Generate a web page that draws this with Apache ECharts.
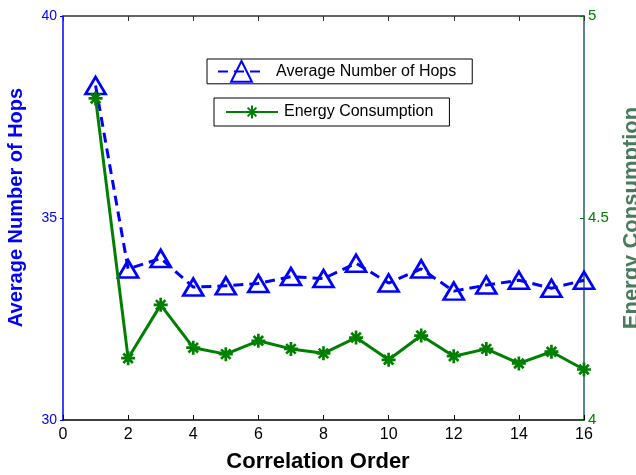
<!DOCTYPE html>
<html>
<head>
<meta charset="utf-8">
<script src="https://cdn.jsdelivr.net/npm/echarts@6/dist/echarts.min.js"></script>
<style>
html,body{margin:0;padding:0;background:#fff;}
#c{width:636px;height:475px;}
</style>
</head>
<body>
<div id="c"></div>
<script>
var correlationOrder = [1, 2, 3, 4, 5, 6, 7, 8, 9, 10, 11, 12, 13, 14, 15, 16];
var avgHops = [38.28, 33.74, 34.0, 33.29, 33.32, 33.38, 33.55, 33.5, 33.88, 33.39, 33.74, 33.19, 33.34, 33.46, 33.26, 33.46];
var energy = [4.796, 4.153, 4.285, 4.179, 4.163, 4.196, 4.176, 4.165, 4.204, 4.149, 4.209, 4.158, 4.176, 4.140, 4.169, 4.125];
var seriesNames = ['Average Number of Hops', 'Energy Consumption'];
var xTicks = [0, 16, 2];
var leftTicks = [30, 40, 5];
var rightTicks = [4, 5, 0.5];

var FONT = 'Liberation Sans, Arial, Helvetica, sans-serif';
function pairs(xs, ys) { return xs.map(function (x, i) { return [x, ys[i]]; }); }

var chart = echarts.init(document.getElementById('c'), null, { renderer: 'canvas' });
chart.setOption({
  backgroundColor: '#ffffff',
  animation: false,
  grid: { left: 63, right: 52, top: 16, bottom: 55, containLabel: false, outerBoundsMode: 'none' },
  legend: [
    {
      data: [seriesNames[0]], left: 207, top: 59, orient: 'horizontal',
      padding: [1, 16, 1, 10], itemWidth: 47, itemHeight: 26,
      borderColor: '#000', borderWidth: 1, backgroundColor: '#fff', borderRadius: 0,
      textStyle: { fontFamily: FONT, fontSize: 16, color: '#000', padding: [0, 0, 0, 6] }
    },
    {
      data: [seriesNames[1]], left: 214, top: 98, orient: 'horizontal',
      padding: [6, 16, 6, 11], itemWidth: 52, itemHeight: 16,
      borderColor: '#000', borderWidth: 1, backgroundColor: '#fff', borderRadius: 0,
      textStyle: { fontFamily: FONT, fontSize: 16, color: '#000', padding: [0, 0, 0, 1] }
    }
  ],
  xAxis: [
    {
      type: 'value', position: 'bottom', min: xTicks[0], max: xTicks[1], interval: xTicks[2],
      name: 'Correlation Order', nameLocation: 'middle', nameGap: 31,
      nameTextStyle: { fontFamily: FONT, fontSize: 22, fontWeight: 'bold', color: '#000', padding: [0, 11, 0, 0] },
      axisLine: { show: true, onZero: false, lineStyle: { color: '#000', width: 1.5 } },
      axisTick: { show: true, inside: true, length: 5, lineStyle: { color: '#000', width: 1 } },
      axisLabel: { fontFamily: FONT, fontSize: 16, color: '#000', margin: 7 },
      splitLine: { show: false }
    },
    {
      type: 'value', position: 'top', min: xTicks[0], max: xTicks[1], interval: xTicks[2],
      axisLine: { show: true, onZero: false, lineStyle: { color: '#333', width: 1.5 } },
      axisTick: { show: true, inside: true, length: 5, lineStyle: { color: '#333', width: 1 } },
      axisLabel: { show: false },
      splitLine: { show: false }
    }
  ],
  yAxis: [
    {
      type: 'value', position: 'left', min: leftTicks[0], max: leftTicks[1], interval: leftTicks[2],
      name: 'Average Number of Hops', nameLocation: 'middle', nameGap: 37, nameRotate: 90,
      nameTextStyle: { fontFamily: FONT, fontSize: 20, fontWeight: 'bold', color: '#0000ff', padding: [0, 0, 0, 21] },
      axisLine: { show: true, onZero: false, lineStyle: { color: '#0000ff', width: 1.5 } },
      axisTick: { show: true, inside: false, length: 3, lineStyle: { color: '#0000ff', width: 1 } },
      axisLabel: { fontFamily: FONT, fontSize: 14, color: '#0000ff', margin: 6 },
      splitLine: { show: false }
    },
    {
      type: 'value', position: 'right', min: rightTicks[0], max: rightTicks[1], interval: rightTicks[2],
      name: 'Energy Consumption', nameLocation: 'middle', nameGap: 37, nameRotate: 90,
      nameTextStyle: { fontFamily: FONT, fontSize: 22, fontWeight: 'bold', color: '#4a7a5c' },
      axisLine: { show: true, onZero: false, lineStyle: { color: '#1f5c70', width: 1.5 } },
      axisTick: { show: true, inside: true, length: 4, lineStyle: { color: '#008000', width: 1 } },
      axisLabel: { fontFamily: FONT, fontSize: 15, color: '#008000', margin: 4 },
      splitLine: { show: false }
    }
  ],
  series: [
    {
      name: seriesNames[0], type: 'line', xAxisIndex: 0, yAxisIndex: 0,
      data: pairs(correlationOrder, avgHops),
      symbol: 'triangle', symbolSize: [20, 17], showAllSymbol: true,
      lineStyle: { color: '#0000ff', width: 3, type: [10, 6] },
      itemStyle: { color: 'rgba(255,255,255,0)', borderColor: '#0000ff', borderWidth: 2.7 },
      emphasis: { disabled: true }, z: 2
    },
    {
      name: seriesNames[1], type: 'line', xAxisIndex: 0, yAxisIndex: 1,
      data: pairs(correlationOrder, energy),
      symbol: 'path://M5 0L5 10M0 5L10 5M1.6 1.6L8.4 8.4M8.4 1.6L1.6 8.4', symbolSize: 14, showAllSymbol: true,
      lineStyle: { color: '#008000', width: 3 },
      itemStyle: { color: '#008000', borderColor: '#008000', borderWidth: 2.7 },
      emphasis: { disabled: true }, z: 3
    }
  ]
});
</script>
</body>
</html>
